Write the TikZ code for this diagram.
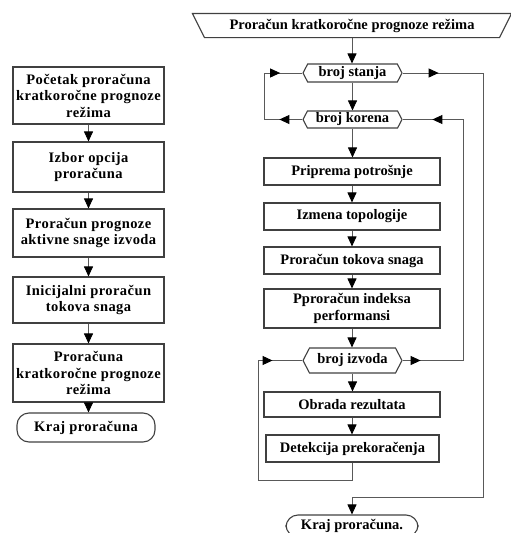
\documentclass[tikz,border=0pt]{standalone}
\usepackage{fontspec}
\setmainfont{Liberation Serif}
\newfontfamily\leftfont[LetterSpace=3]{Liberation Serif}
\usetikzlibrary{arrows.meta}
\usetikzlibrary{shapes.symbols}
\usetikzlibrary{decorations.markings}

\newcommand{\boxfont}{\bfseries\fontsize{14.5}{16.5}\selectfont}

\tikzset{
    box/.style={draw=black!75, line width=1.1pt, align=center, inner sep=1pt, font=\boxfont},
    lbox/.style={box, minimum width=151pt, font=\leftfont\boxfont},
    rbox/.style={box, minimum width=176pt},
    loopbox/.style={box, signal, signal to=west and east, signal pointer angle=125, minimum width=99pt},
    term/.style={box, rounded corners=12pt},
    wire/.style={black!65, line width=0.9pt},
    flow/.style={wire, ->},
}

\begin{document}
\begin{tikzpicture}[x=1pt, y=-1pt, >={Triangle[length=10pt,width=9pt,color=black]}]
    \useasboundingbox (0,0) rectangle (511,533);

    % Left: overview of the calculation
    \node[lbox, minimum height=57pt] (l1) at (88.5,95.5) {Početak proračuna\\kratkoročne prognoze\\režima};
    \node[lbox, minimum height=50pt] (l2) at (88.5,167) {Izbor opcija\\proračuna};
    \node[lbox, minimum height=48pt] (l3) at (88.5,233) {Proračun prognoze\\aktivne snage izvoda};
    \node[lbox, minimum height=46pt] (l4) at (88.5,300) {Inicijalni proračun\\tokova snaga};
    \node[lbox, minimum height=58pt] (l5) at (88.5,373) {Proračuna\\kratkoročne prognoze\\režima};
    \node[term, font=\leftfont\boxfont, minimum width=138pt, minimum height=29pt] (lend) at (86,427.5) {Kraj proračuna};
    \foreach \a/\b in {l1/l2, l2/l3, l3/l4, l4/l5, l5/lend}
        \draw[flow] (\a.south) -- (\a.south |- \b.north);

    % Right: start (inverted trapezium)
    \node[box, draw=none, minimum width=318pt, minimum height=23pt] (start) at (352,25.5) {Proračun kratkoročne prognoze režima};
    \draw[black!75, line width=1.1pt] (start.north west) -- (start.north east)
        -- ([xshift=-12pt]start.south east) -- ([xshift=12pt]start.south west) -- cycle;

    % Right: loops and steps
    \node[loopbox, minimum height=18pt] (stanja) at (352.5,73) {broj stanja};
    \node[loopbox, minimum height=17pt] (korena) at (352.5,119.5) {broj korena};
    \node[rbox, minimum height=27pt] (prip) at (352,171.5) {Priprema potrošnje};
    \node[rbox, minimum height=27pt] (izm) at (352,216.5) {Izmena topologije};
    \node[rbox, minimum height=27pt] (tok) at (352,260.5) {Proračun tokova snaga};
    \node[rbox, minimum height=39pt] (ind) at (352,308.5) {Pproračun indeksa\\performansi};
    \node[loopbox, minimum height=25pt] (izv) at (352.5,360.5) {broj izvoda};
    \node[rbox, minimum height=25pt] (obr) at (352,404.5) {Obrada rezultata};
    \node[rbox, minimum width=173pt, minimum height=27pt] (det) at (352.5,448.5) {Detekcija prekoračenja};
    \node[term, minimum width=132pt, minimum height=22pt] (kraj) at (352,526) {Kraj proračuna.};
    \foreach \a/\b in {start/stanja, stanja/korena, korena/prip, prip/izm, izm/tok, tok/ind, ind/izv, izv/obr, obr/det}
        \draw[flow] (\a.south) -- (\a.south |- \b.north);

    % Loop over states / branches
    \coordinate (kl) at (264,119.5);
    \coordinate (sl) at (264,73);
    \draw[wire, postaction={decorate}, decoration={markings,
            mark=at position 23pt with {\arrow{>}},
            mark=at position 101pt with {\arrow{>}}}]
        (korena.west) -- (kl) -- (sl) -- (stanja.west);

    % Exit of the outer loop
    \coordinate (sr) at (483,73);
    \coordinate (br) at (483,497);
    \coordinate (bc) at (352,497);
    \draw[flow, postaction={decorate}, decoration={markings,
            mark=at position 36pt with {\arrow{>}}}]
        (stanja.east) -- (sr) -- (br) -- (bc) -- (kraj.north);

    % Loop over feeders back to branches
    \coordinate (ir) at (463,360.5);
    \coordinate (kr) at (463,119.5);
    \draw[wire, postaction={decorate}, decoration={markings,
            mark=at position 18pt with {\arrow{>}},
            mark=at position 332pt with {\arrow{>}}}]
        (izv.east) -- (ir) -- (kr) -- (korena.east);

    % Loop back to feeders
    \coordinate (db) at (352.5,480);
    \coordinate (lb) at (258,480);
    \coordinate (lt) at (258,360.5);
    \draw[wire, postaction={decorate}, decoration={markings,
            mark=at position 246pt with {\arrow{>}}}]
        (det.south) -- (db) -- (lb) -- (lt) -- (izv.west);
\end{tikzpicture}
\end{document}
